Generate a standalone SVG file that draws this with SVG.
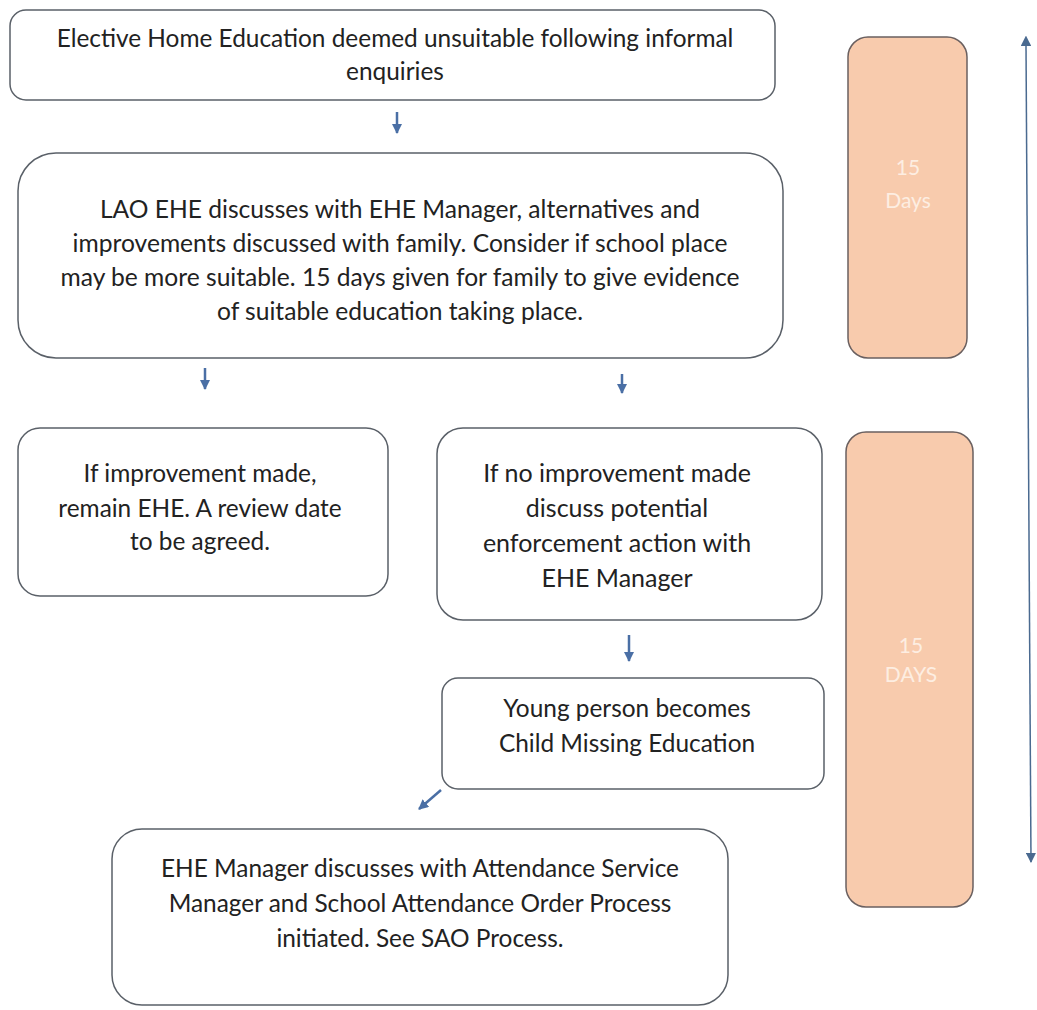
<svg xmlns="http://www.w3.org/2000/svg" width="1037" height="1010" viewBox="0 0 1037 1010">
<defs>
<marker id="ah" viewBox="0 0 10 10" refX="9" refY="5" markerWidth="4" markerHeight="4" orient="auto" markerUnits="strokeWidth">
<path d="M0,0 L10,5 L0,10 z" fill="#4a6fa5"/>
</marker>
<marker id="ahb" viewBox="0 0 10 10" refX="9" refY="5" markerWidth="7" markerHeight="7" orient="auto" markerUnits="strokeWidth">
<path d="M0,0 L10,5 L0,10 z" fill="#4a6a90"/>
</marker>
<marker id="ahs" viewBox="0 0 10 10" refX="1" refY="5" markerWidth="7" markerHeight="7" orient="auto-start-reverse" markerUnits="strokeWidth">
<path d="M0,0 L10,5 L0,10 z" fill="#4a6a90"/>
</marker>
</defs>
<style>
.box{fill:#fff;stroke:#5a6068;stroke-width:1.5}
.side{fill:#f8cbad;stroke:#6a6060;stroke-width:1.5}
.t{font-family:Lato,"Liberation Sans",sans-serif;font-size:24.4px;fill:#222;text-anchor:middle}
.s{font-family:Lato,"Liberation Sans",sans-serif;font-size:21px;fill:#fdeee2;text-anchor:middle}
.c{stroke:#4a6fa5;stroke-width:2.5;fill:none}
</style>
<rect width="1037" height="1010" fill="#fff"/>
<g id="n1">
<rect class="box" x="10" y="10" width="765" height="90" rx="16"/>
<text class="t" x="395" y="47">Elective Home Education deemed unsuitable following informal</text>
<text class="t" x="395" y="80">enquiries</text>
</g>
<g id="n2">
<rect class="box" x="18" y="153" width="765" height="205" rx="38"/>
<text class="t" x="400" y="218" style="font-size:24.6px">LAO EHE discusses with EHE Manager, alternatives and</text>
<text class="t" x="400" y="252" style="font-size:24.6px">improvements discussed with family. Consider if school place</text>
<text class="t" x="400" y="286" style="font-size:24.6px">may be more suitable. 15 days given for family to give evidence</text>
<text class="t" x="400" y="320" style="font-size:24.6px">of suitable education taking place.</text>
</g>
<g id="n3">
<rect class="box" x="18" y="428" width="370" height="168" rx="22"/>
<text class="t" x="200" y="482">If improvement made,</text>
<text class="t" x="200" y="517">remain EHE. A review date</text>
<text class="t" x="200" y="550">to be agreed.</text>
</g>
<g id="n4">
<rect class="box" x="437" y="428" width="385" height="192" rx="26"/>
<text class="t" x="617" y="482" style="font-size:25px">If no improvement made</text>
<text class="t" x="617" y="517" style="font-size:25px">discuss potential</text>
<text class="t" x="617" y="552" style="font-size:25px">enforcement action with</text>
<text class="t" x="617" y="587" style="font-size:25px">EHE Manager</text>
</g>
<g id="n5">
<rect class="box" x="442" y="678" width="382" height="111" rx="16"/>
<text class="t" x="627" y="717">Young person becomes</text>
<text class="t" x="627" y="752">Child Missing Education</text>
</g>
<g id="n6">
<rect class="box" x="112" y="829" width="616" height="176" rx="30"/>
<text class="t" x="420" y="877">EHE Manager discusses with Attendance Service</text>
<text class="t" x="420" y="912">Manager and School Attendance Order Process</text>
<text class="t" x="420" y="947">initiated. See SAO Process.</text>
</g>
<g id="d1">
<rect class="side" x="848" y="37" width="119" height="321" rx="20"/>
<text class="s" x="908" y="175">15</text>
<text class="s" x="908" y="208">Days</text>
</g>
<g id="d2">
<rect class="side" x="846" y="432" width="127" height="475" rx="20"/>
<text class="s" x="911" y="653">15</text>
<text class="s" x="911" y="682">DAYS</text>
</g>
<g id="connectors">
<line class="c" x1="397" y1="112" x2="397" y2="133" marker-end="url(#ah)"/>
<line class="c" x1="205" y1="368" x2="205" y2="389" marker-end="url(#ah)"/>
<line class="c" x1="622" y1="374" x2="622" y2="393" marker-end="url(#ah)"/>
<line class="c" x1="629" y1="635" x2="629" y2="661" marker-end="url(#ah)"/>
<line class="c" x1="441" y1="790" x2="419" y2="809" marker-end="url(#ah)"/>
<line x1="1026" y1="45" x2="1031" y2="862" stroke="#4a6a90" stroke-width="1.5" marker-start="url(#ahs)" marker-end="url(#ahb)"/>
</g>
</svg>
